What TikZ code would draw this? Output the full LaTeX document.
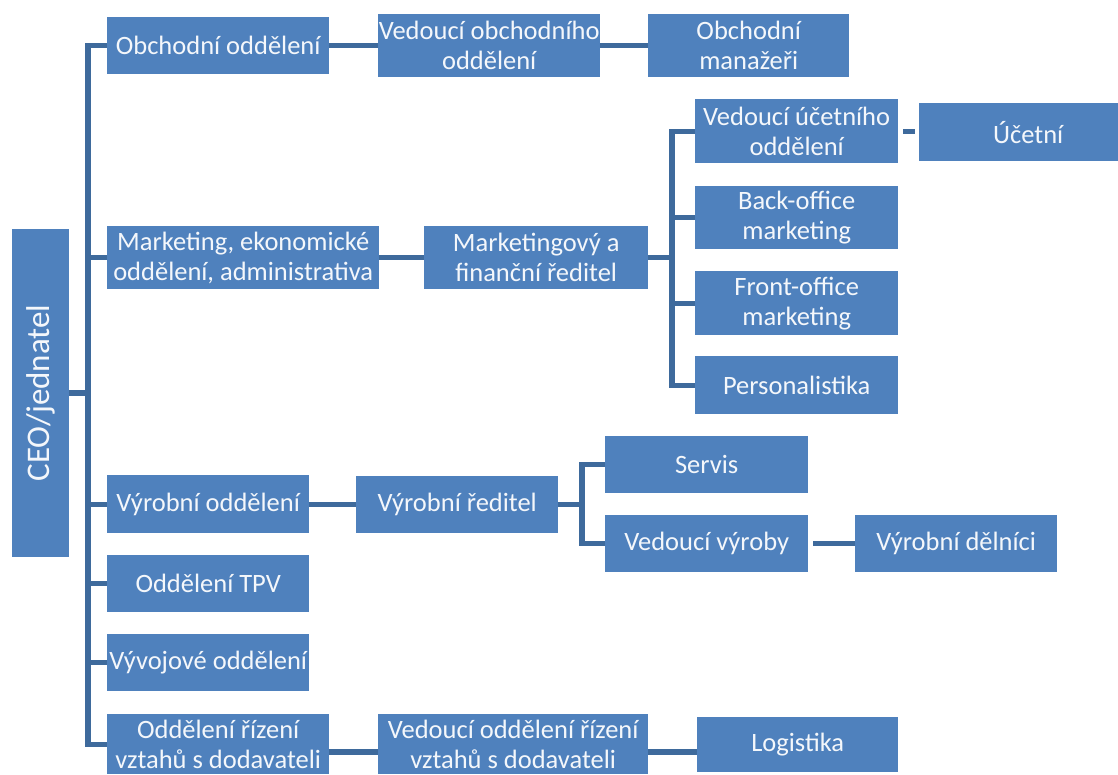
\documentclass[tikz,border=0pt]{standalone}
\usepackage{fontspec}
\setmainfont{Carlito}
\definecolor{boxblue}{HTML}{4F81BD}
\definecolor{lineblue}{HTML}{3E6A9C}
\definecolor{boxtext}{HTML}{F4F7FB}
\tikzset{
  box/.style={fill=boxblue, text=boxtext, inner sep=0pt, align=center, font=\fontsize{26.5}{30}\selectfont},
  conn/.style={draw=lineblue, line width=5.2pt, line join=miter, line cap=butt}
}
\newcommand{\bx}[6]{\node[box, minimum width=#4pt-#2pt, minimum height=#5pt-#3pt, anchor=north west] (#1) at (#2,#3) {#6};}
\begin{document}
\begin{tikzpicture}[x=1pt,y=-1pt]
\useasboundingbox (0,0) rectangle (1118,774);
% root
\node[box, rotate=90, minimum width=328pt, minimum height=57pt, font=\fontsize{33}{38}\selectfont] (ceo) at (40.5,393) {CEO/jednatel};
% level 1
\bx{obch}{107}{17}{329}{74}{Obchodní oddělení}
\bx{mkt}{107}{226}{379}{289}{Marketing, ekonomické\\oddělení, administrativa}
\bx{vyr}{107}{475}{309}{533}{Výrobní oddělení}
\bx{tpv}{107}{555}{309}{612}{Oddělení TPV}
\bx{vyv}{107}{634}{309}{691}{Vývojové oddělení}
\bx{odr}{107}{714}{329}{774}{Oddělení řízení\\vztahů s dodavateli}
% level 2
\bx{vobch}{378}{14}{600}{77}{Vedoucí obchodního\\oddělení}
\bx{mana}{648}{14}{849}{77}{Obchodní\\manažeři}
\bx{mfr}{424}{226}{648}{289}{Marketingový a\\finanční ředitel}
\bx{vred}{356}{476}{558}{533}{Výrobní ředitel}
\bx{vodr}{378}{714}{648}{774}{Vedoucí oddělení řízení\\vztahů s dodavateli}
\bx{logi}{697}{717}{898}{772}{Logistika}
% level 3
\bx{vuo}{695}{99}{898}{163}{Vedoucí účetního\\oddělení}
\bx{back}{695}{186}{898}{249}{Back-office\\marketing}
\bx{front}{695}{271}{898}{335}{Front-office\\marketing}
\bx{pers}{695}{356}{898}{414}{Personalistika}
\bx{uct}{919}{103}{1137}{161}{Účetní}
\bx{serv}{605}{436}{808}{493}{Servis}
\bx{vv}{605}{515}{808}{572}{Vedoucí výroby}
\bx{deln}{855}{515}{1057}{572}{Výrobní dělníci}
% bracket coordinates
\coordinate (tr) at (88,0);
\coordinate (br1) at (672,0);
\coordinate (br2) at (582,0);
% trunk
\draw[conn] (ceo.south) -- (ceo.south -| tr);
\draw[conn] (obch.west) -- (obch.west -| tr) -- (odr.west -| tr) -- (odr.west);
\foreach \n in {mkt,vyr,tpv,vyv} \draw[conn] (\n.west) -- (\n.west -| tr);
% level 1 -> 2
\draw[conn] (obch.east) -- (obch.east -| vobch.west);
\draw[conn] (vobch.east) -- (vobch.east -| mana.west);
\draw[conn] (mkt.east) -- (mkt.east -| mfr.west);
\draw[conn] (vyr.east) -- (vyr.east -| vred.west);
\coordinate (bot) at (0,752);
\draw[conn] (odr.east |- bot) -- (vodr.west |- bot);
\draw[conn] (vodr.east |- bot) -- (logi.west |- bot);
% marketing bracket
\draw[conn] (mfr.east) -- (mfr.east -| br1);
\draw[conn] (vuo.west) -- (vuo.west -| br1) -- (pers.west -| br1) -- (pers.west);
\foreach \n in {back,front} \draw[conn] (\n.west) -- (\n.west -| br1);
\draw[conn, shorten <=5pt, shorten >=4pt] (vuo.east) -- (vuo.east -| uct.west);
% production bracket
\draw[conn] (vred.east) -- (vred.east -| br2);
\draw[conn] (serv.west) -- (serv.west -| br2) -- (vv.west -| br2) -- (vv.west);
\draw[conn, shorten <=5pt] (vv.east) -- (vv.east -| deln.west);
\end{tikzpicture}
\end{document}
